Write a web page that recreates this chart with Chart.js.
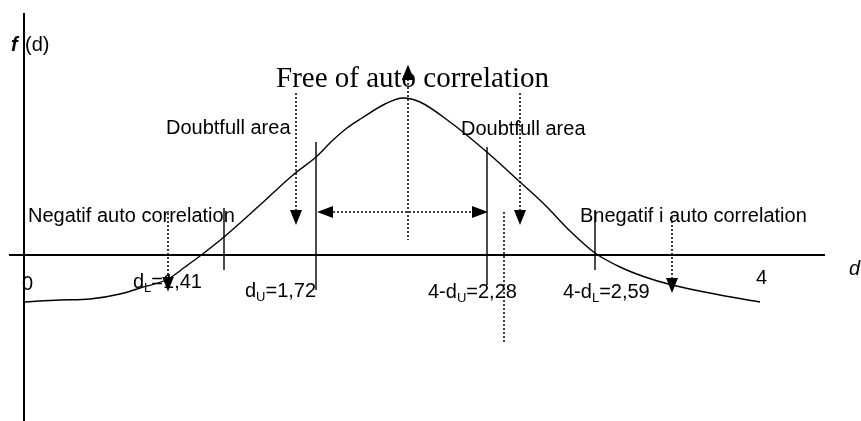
<!DOCTYPE html>
<html><head><meta charset="utf-8">
<script src="https://cdn.jsdelivr.net/npm/chart.js@4.4.1/dist/chart.umd.min.js"></script>
<style>html,body{margin:0;padding:0;background:#fff}#wrap{width:861px;height:421px}</style>
</head><body><div id="wrap"><canvas id="c" width="861" height="421"></canvas></div>
<script>
// Diagram coordinates: x along the d axis (diagram units), y = f(d) height above the d axis
const curveX = [24, 60, 90, 120, 140, 168, 185, 200, 224, 260, 293, 316, 332, 347, 362, 385, 403, 420, 450, 488, 520, 545, 570, 595, 620, 645, 672, 720, 760];
const curveY = [-47, -45, -44, -39, -33, -24, -12, -1, 18, 50, 80, 98, 114, 127, 137, 151, 157, 153, 133, 102, 73, 50, 24, 2, -12, -22, -30, -40, -47];

// critical-value boundaries (solid vertical lines)
const boundaryX = [224, 316, 487, 595];
const boundaryTop = [47, 113, 108, 45];
const boundaryBottom = [-15, -35, -30, -15];

// dotted pointer lines
const dottedX = [168, 296, 408, 520, 504, 672];
const dottedTop = [42, 162, 176, 162, 43, 38];
const dottedBottom = [-22, 45, 15, 45, -88, -23];
const dottedHFrom = [333], dottedHTo = [471], dottedHY = [43];

// arrow heads
const arrowX = [168, 296, 520, 672, 408, 325, 480];
const arrowY = [-29, 37.5, 37.5, -30.5, 183, 43, 43];
const arrowDir = ['down', 'down', 'down', 'down', 'up', 'left', 'right'];

// axes
const axisXFrom = 9, axisXTo = 825, axisYX = 24, axisYTop = 242, axisYBottom = -166;

// labels
const critLabelMain = ['d', 'd', '4-d', '4-d'];
const critLabelSub = ['L', 'U', 'U', 'L'];
const critLabelRest = ['=1,41', '=1,72', '=2,28', '=2,59'];
const critLabelX = [133, 245, 428, 563];
const critLabelY = [-33, -42, -43, -43];

const regionText = ['Doubtfull area', 'Doubtfull area', 'Negatif auto correlation', 'Bnegatif i auto correlation'];
const regionX = [166, 461, 28, 580];
const regionY = [121, 120, 33, 33];

const titleText = 'Free of auto correlation';
const titleX = 276, titleY = 168;

const tickText = ['0', '4'];
const tickX = [22, 756];
const tickY = [-35, -29];

function arrowCanvas(dir) {
  const c = document.createElement('canvas');
  const horiz = (dir === 'left' || dir === 'right');
  const w = horiz ? 16 : 12, h = horiz ? 12 : 15;
  c.width = w; c.height = h;
  const g = c.getContext('2d');
  g.fillStyle = '#000';
  g.beginPath();
  if (dir === 'down') { g.moveTo(0, 0); g.lineTo(w, 0); g.lineTo(w / 2, h); }
  else if (dir === 'up') { g.moveTo(0, h); g.lineTo(w, h); g.lineTo(w / 2, 0); }
  else if (dir === 'left') { g.moveTo(w, 0); g.lineTo(w, h); g.lineTo(0, h / 2); }
  else { g.moveTo(0, 0); g.lineTo(0, h); g.lineTo(w, h / 2); }
  g.closePath(); g.fill();
  return c;
}

function segments(xs, tops, bottoms) {
  const out = [];
  xs.forEach((x, i) => { out.push({x, y: tops[i]}, {x, y: bottoms[i]}, {x, y: null}); });
  return out;
}

const curveData = curveX.map((x, i) => ({x, y: curveY[i]}));
const boundaryData = segments(boundaryX, boundaryTop, boundaryBottom);
const dottedData = segments(dottedX, dottedTop, dottedBottom);
dottedHFrom.forEach((f, i) => { dottedData.push({x: f, y: dottedHY[i]}, {x: dottedHTo[i], y: dottedHY[i]}, {x: f, y: null}); });
const arrowData = arrowX.map((x, i) => ({x, y: arrowY[i]}));
const arrowStyles = arrowDir.map(arrowCanvas);

const textPlugin = {
  id: 'texts',
  afterDatasetsDraw(chart) {
    const ctx = chart.ctx, xs = chart.scales.x, ys = chart.scales.y;
    const X = v => xs.getPixelForValue(v), Y = v => ys.getPixelForValue(v);
    ctx.save();
    ctx.fillStyle = '#000';
    ctx.textBaseline = 'alphabetic';
    ctx.textAlign = 'left';
    ctx.font = '29px "Liberation Serif", "Times New Roman", serif';
    ctx.fillText(titleText, X(titleX), Y(titleY));
    ctx.font = '20px "Liberation Sans", Arial, sans-serif';
    regionText.forEach((t, i) => ctx.fillText(t, X(regionX[i]), Y(regionY[i])));
    tickText.forEach((t, i) => ctx.fillText(t, X(tickX[i]), Y(tickY[i])));
    critLabelMain.forEach((m, i) => {
      let x = X(critLabelX[i]); const y = Y(critLabelY[i]);
      ctx.font = '20px "Liberation Sans", Arial, sans-serif';
      ctx.fillText(m, x, y); x += ctx.measureText(m).width;
      ctx.font = '13px "Liberation Sans", Arial, sans-serif';
      ctx.fillText(critLabelSub[i], x, y + 4); x += ctx.measureText(critLabelSub[i]).width;
      ctx.font = '20px "Liberation Sans", Arial, sans-serif';
      ctx.fillText(critLabelRest[i], x, y);
    });
    ctx.font = 'italic bold 20px "Liberation Sans", Arial, sans-serif';
    ctx.fillText('f', X(11), Y(204));
    ctx.font = 'italic 20px "Liberation Sans", Arial, sans-serif';
    ctx.fillText('d', X(849), Y(-20));
    ctx.font = '20px "Liberation Sans", Arial, sans-serif';
    ctx.fillText('(d)', X(25), Y(204));
    ctx.restore();
  }
};

new Chart(document.getElementById('c'), {
  type: 'scatter',
  data: {
    datasets: [
      {data: [{x: axisXFrom, y: 0}, {x: axisXTo, y: 0}, {x: axisXFrom, y: null}, {x: axisYX, y: axisYTop}, {x: axisYX, y: axisYBottom}],
       showLine: true, spanGaps: false, borderColor: '#000', borderWidth: 2, pointRadius: 0},
      {data: curveData, showLine: true, borderColor: '#000', borderWidth: 1.4, pointRadius: 0, cubicInterpolationMode: 'monotone'},
      {data: boundaryData, showLine: true, spanGaps: false, borderColor: '#000', borderWidth: 1.4, pointRadius: 0},
      {data: dottedData, showLine: true, spanGaps: false, borderColor: '#000', borderWidth: 1.5, borderDash: [2, 2], pointRadius: 0},
      {data: arrowData, showLine: false, pointStyle: arrowStyles, pointRadius: 7, backgroundColor: '#000', borderColor: '#000'}
    ]
  },
  options: {
    responsive: false, animation: false, devicePixelRatio: 1,
    layout: {padding: 0, autoPadding: false},
    events: [],
    plugins: {legend: {display: false}, tooltip: {enabled: false}, title: {display: false}},
    scales: {
      x: {type: 'linear', display: false, min: 0, max: 861},
      y: {type: 'linear', display: false, min: -166, max: 255}
    }
  },
  plugins: [textPlugin]
});
</script>
</body></html>
